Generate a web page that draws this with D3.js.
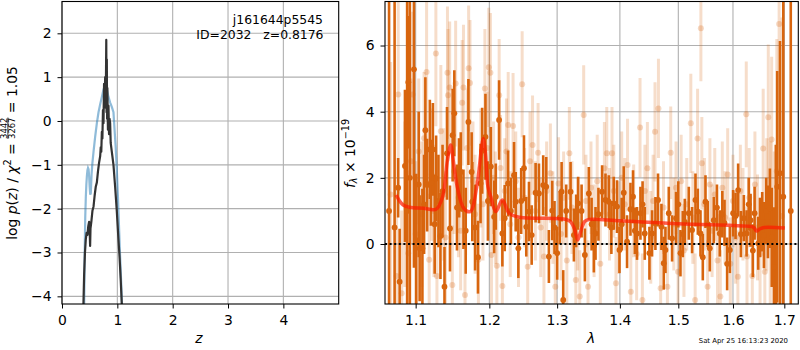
<!DOCTYPE html>
<html><head><meta charset="utf-8">
<script src="https://cdn.jsdelivr.net/npm/d3@7"></script>
<style>
body{margin:0;background:#fff}
svg{display:block;font-family:"DejaVu Sans",sans-serif}
</style></head><body>
<svg id="c" width="800" height="350"></svg>
<script>
// ---------- data ----------
const titleLines = ["j161644p5545", "ID=2032   z=0.8176"];
const stamp = "Sat Apr 25 16:13:23 2020";

const zTicks = [0, 1, 2, 3, 4];
const pTicks = [-4, -3, -2, -1, 0, 1, 2];
const lamTicks = [1.1, 1.2, 1.3, 1.4, 1.5, 1.6, 1.7];
const fTicks = [0, 2, 4, 6];

// log p(z) (dark) and chi2-based curve (blue)
const zDark = [0.385,0.40,0.415,0.43,0.445,0.46,0.475,0.49,0.50,0.508,0.515,0.53,0.55,0.57,0.59,0.61,0.63,0.65,0.67,0.69,0.70,0.71,0.72,0.73,0.74,0.75,0.76,0.77,0.78,0.79,0.80,0.805,0.81,0.815,0.82,0.83,0.84,0.85,0.86,0.87,0.88,0.90,0.93,0.96,0.99,1.02,1.04,1.06,1.085];
const pDark = [-4.3,-3.5,-3.0,-2.7,-2.55,-2.6,-2.4,-2.3,-2.5,-2.85,-2.45,-2.3,-2.05,-1.95,-1.7,-1.5,-1.4,-1.15,-0.95,-0.8,-0.6,-0.7,-0.25,-0.4,0.25,-0.05,0.85,0.45,1.0,0.3,1.85,0.2,1.4,0.05,0.75,-0.2,0.35,-0.3,0.05,-0.05,-0.5,-0.7,-1.0,-1.5,-2.05,-2.7,-3.1,-3.6,-4.3];
const zBlue = [0.400,0.410,0.420,0.430,0.440,0.450,0.460,0.470,0.480,0.490,0.500,0.510,0.520,0.535,0.550,0.570,0.600,0.630,0.660,0.690,0.720,0.750,0.780,0.810,0.840,0.870,0.900,0.930,0.950,0.970,0.990,1.010,1.030,1.050,1.070,1.090];
const pBlue = [-4.3,-3.0,-2.2,-1.75,-1.45,-1.25,-1.12,-1.07,-1.1,-1.25,-1.5,-1.68,-1.65,-1.2,-0.95,-0.7,-0.35,-0.05,0.2,0.38,0.55,0.72,0.8,0.72,0.55,0.42,0.32,0.2,-0.2,-0.6,-1.1,-1.7,-2.4,-3.1,-3.7,-4.4];

// spectrum, strong series
const darkWave = [
1.0660,1.0730,1.0775,1.0794,1.0862,1.0890,1.0905,1.0925,1.0978,1.1008,
1.1040,1.1052,1.1088,1.1110,1.1127,1.1150,1.1186,1.1200,1.1226,1.1250,
1.1269,1.1300,1.1327,1.1355,1.1381,1.1415,1.1455,1.1491,1.1514,1.1550,
1.1580,1.1602,1.1639,1.1670,1.1707,1.1752,1.1761,1.1800,1.1840,1.1876,
1.1899,1.1945,1.1980,1.2021,1.2068,1.2092,1.2139,1.2186,1.2220,1.2268,
1.2310,1.2355,1.2380,1.2418,1.2460,1.2501,1.2535,1.2575,1.2615,1.2674,
1.2724,1.2788,1.2834,1.2874,1.2925,1.2960,1.3001,1.3040,1.3069,1.3094,
1.3140,1.3208,1.3260,1.3295,1.3327,1.3381,1.3433,1.3496,1.3540,1.3576,
1.3603,1.3650,1.3709,1.3764,1.3818,1.3860,1.3899,1.3953,1.3993,1.4030,
1.4064,1.4119,1.4176,1.4219,1.4250,1.4286,1.4344,1.4380,1.4417,1.4497,
1.4542,1.4600,1.4645,1.4704,1.4744,1.4774,1.4832,1.4890,1.4960,1.5000,
1.5038,1.5080,1.5115,1.5187,1.5246,1.5307,1.5350,1.5398,1.5440,1.5489,
1.5530,1.5568,1.5642,1.5700,1.5753,1.5800,1.5841,1.5890,1.5941,1.6003,
1.6049,1.6098,1.6150,1.6207,1.6259,1.6300,1.6336,1.6380,1.6414,1.6484,
1.6520,1.6562,1.6595,1.6640,1.6674,1.6713,1.6750,1.6793,1.6830,1.6858,
1.6913,1.6979,1.7130];
const darkFlux = [
1.0,0.5,1.7,-1.14,2.36,1.0,4.89,2.0,5.28,0.12,
1.8,-0.13,-0.13,1.2,3.44,1.78,2.86,1.85,2.86,0.6,
1.98,1.3,0.24,1.6,-1.29,2.74,0.47,3.29,3.95,1.1,
2.0,2.18,1.05,0.4,3.69,2.18,1.28,0.5,-0.40,1.83,
2.82,3.24,1.3,2.34,0.82,1.43,3.75,0.32,0.78,1.83,
1.0,2.08,1.28,-0.13,1.3,2.29,0.52,0.98,0.27,1.55,
1.53,1.78,1.73,-0.38,1.01,0.5,-0.28,0.8,1.58,-1.69,
1.0,1.58,0.27,0.7,1.23,1.0,-0.33,1.53,0.6,-0.06,
0.32,0.9,1.58,1.33,1.28,0.5,1.23,1.13,-0.18,0.6,
1.55,0.07,1.05,1.43,0.4,0.32,0.93,1.2,0.32,-0.28,
0.32,0.62,1.33,0.52,-0.58,-0.18,0.93,0.17,0.78,1.2,
-0.28,0.3,0.67,0.93,0.42,1.33,0.98,0.32,-0.4,1.28,
0.6,-0.13,0.72,1.1,0.32,0.9,0.64,-0.6,-0.18,0.93,
0.85,1.63,0.3,0.78,0.32,1.2,0.72,-0.2,0.93,0.02,
0.5,0.67,0.27,1.0,0.67,1.08,0.2,-0.69,0.5,1.73,
2.14,1.43,1.0];
const darkErr = [
8,8,0.9,1.6,2.3,8,2.0,8,6,2.0,
2.2,1.6,1.8,1.5,1.6,1.4,1.5,1.3,1.4,1.5,
1.3,1.4,1.3,1.4,1.2,1.4,1.3,1.4,1.3,1.3,
1.2,1.2,1.2,1.3,1.3,1.2,1.2,1.3,1.1,1.2,
1.3,1.3,1.2,1.2,1.1,1.0,1.2,1.0,1.0,1.0,
1.0,1.0,0.9,0.9,1.0,1.0,0.9,0.9,0.9,0.9,
0.9,0.9,0.9,0.8,0.9,0.8,0.8,0.8,0.9,0.9,
0.8,0.9,0.8,0.8,0.8,0.8,0.8,0.8,0.8,0.8,
0.8,0.8,0.8,0.8,0.8,0.8,0.8,0.8,0.7,0.8,
0.8,0.8,0.8,0.8,0.7,0.8,0.8,0.7,0.8,0.8,
0.7,0.8,0.8,0.7,0.8,0.7,0.8,0.7,0.8,0.7,
0.7,0.7,0.7,0.8,0.7,0.8,0.7,0.7,0.7,0.8,
0.7,0.7,0.7,0.7,0.7,0.7,0.7,0.8,0.7,0.7,
0.7,0.8,0.7,0.7,0.7,0.8,0.8,0.8,0.8,0.8,
0.9,0.9,1.0,1.0,1.1,1.2,1.5,1.8,2.5,3.5,
4.0,8,10];

// spectrum, faint series
const lightWave = [
1.0680,1.0755,1.0776,1.0820,1.0860,1.0905,1.0940,1.0961,1.1000,1.1040,
1.1080,1.1110,1.1143,1.1177,1.1210,1.1240,1.1266,1.1280,1.1332,1.1370,
1.1395,1.1421,1.1429,1.1451,1.1487,1.1510,1.1532,1.1570,1.1600,1.1621,
1.1639,1.1660,1.1690,1.1710,1.1729,1.1770,1.1800,1.1846,1.1880,1.1910,
1.1937,1.1970,1.1992,1.2015,1.2030,1.2060,1.2085,1.2107,1.2140,1.2160,
1.2186,1.2220,1.2245,1.2270,1.2300,1.2341,1.2380,1.2420,1.2474,1.2510,
1.2556,1.2590,1.2628,1.2670,1.2711,1.2750,1.2799,1.2840,1.2897,1.2935,
1.2972,1.3022,1.3060,1.3100,1.3150,1.3189,1.3230,1.3290,1.3320,1.3352,
1.3414,1.3450,1.3483,1.3530,1.3580,1.3630,1.3680,1.3746,1.3785,1.3830,
1.3870,1.3900,1.3935,1.3980,1.4030,1.4080,1.4127,1.4182,1.4230,1.4280,
1.4337,1.4377,1.4420,1.4462,1.4520,1.4560,1.4593,1.4652,1.4690,1.4740,
1.4808,1.4866,1.4920,1.4960,1.4996,1.5050,1.5100,1.5150,1.5223,1.5260,
1.5301,1.5345,1.5405,1.5423,1.5470,1.5528,1.5570,1.5610,1.5660,1.5710,
1.5763,1.5800,1.5850,1.5900,1.5950,1.6000,1.6050,1.6093,1.6140,1.6190,
1.6253,1.6267,1.6310,1.6370,1.6420,1.6470,1.6520,1.6581,1.6613,1.6650,
1.6681,1.6720,1.6748,1.6800,1.6850,1.6896,1.6952];
const lightFlux = [
1.5,-0.97,4.52,-1.49,1.2,-0.28,2.5,4.52,0.3,2.8,
0.9,3.2,5.2,-0.48,2.1,1.0,5.76,-0.97,3.41,1.5,
0.2,5.18,4.5,4.73,-1.24,2.2,4.85,1.4,0.4,4.27,
4.73,-1.54,2.9,5.31,4.87,1.9,0.9,-0.48,2.3,1.2,
4.7,2.9,5.34,5.18,-0.33,2.0,1.1,-0.66,4.5,2.3,
-1.27,1.6,2.8,3.6,0.6,3.57,1.9,0.2,4.83,1.4,
-0.69,2.5,2.99,1.0,2.76,0.5,-0.38,1.6,2.14,0.8,
-1.29,1.83,0.3,1.4,-0.5,2.74,1.1,-1.09,0.6,-1.59,
3.9,1.3,-1.29,1.7,0.4,1.9,-0.6,2.29,2.74,0.9,
2.74,1.6,-1.19,0.5,2.0,1.2,2.39,-1.44,1.0,-0.3,
3.52,-1.69,1.6,2.29,0.2,1.3,3.39,4.1,-1.34,1.1,
-1.29,2.76,0.6,1.7,-0.84,1.9,-0.2,1.2,3.65,0.8,
-1.69,3.19,6.52,2.44,1.2,-1.29,1.8,0.4,1.5,-0.5,
-1.59,1.7,0.8,2.1,-0.6,1.3,0.2,-0.99,1.6,0.9,
3.92,-0.38,1.4,-0.97,1.8,0.5,-0.3,2.89,-0.84,1.2,
3.83,0.6,3.16,-0.2,2.2,6.65,0.85];
const lightErr = [
4,2.5,3,2.5,2.5,2.5,2.5,2.5,2.2,2.2,
2.2,2.0,2.2,2.0,2.0,2.0,2.2,2.0,2.0,2.0,
2.0,2.0,2.0,2.0,1.8,1.9,1.9,1.8,1.8,1.9,
1.9,1.8,1.8,1.9,1.9,1.8,1.8,1.7,1.8,1.7,
1.8,1.7,1.8,1.8,1.7,1.7,1.7,1.7,1.7,1.6,
1.6,1.6,1.6,1.6,1.6,1.6,1.5,1.5,1.6,1.5,
1.5,1.5,1.5,1.5,1.5,1.5,1.5,1.5,1.5,1.4,
1.4,1.4,1.4,1.4,1.4,1.4,1.4,1.4,1.4,1.4,
1.5,1.4,1.4,1.4,1.4,1.4,1.4,1.4,1.4,1.4,
1.4,1.4,1.4,1.4,1.4,1.4,1.4,1.4,1.4,1.4,
1.5,1.4,1.4,1.4,1.4,1.4,1.5,1.5,1.4,1.4,
1.4,1.4,1.4,1.4,1.4,1.4,1.4,1.4,1.5,1.4,
1.4,1.5,1.6,1.4,1.4,1.4,1.4,1.4,1.4,1.4,
1.4,1.4,1.4,1.4,1.4,1.4,1.4,1.4,1.4,1.4,
1.6,1.5,1.5,1.5,1.6,1.6,1.7,1.8,1.8,2.0,
2.2,2.5,2.5,3.0,4,5,6];

// best-fit model
const modelWave = [1.0750,1.0836,1.0922,1.1100,1.1269,1.1356,1.1421,1.1465,1.1510,1.1554,1.1643,1.1733,1.1823,1.1891,1.1914,1.1945,1.1980,1.2021,1.2092,1.2186,1.2285,1.2435,1.2977,1.3140,1.3208,1.3270,1.3319,1.3370,1.3430,1.3500,1.4000,1.5000,1.6000,1.6260,1.6400,1.6450,1.6520,1.6600,1.7010];
const modelFlux = [1.48,1.18,1.11,1.08,1.05,1.43,2.54,2.99,2.34,1.73,1.08,0.98,1.73,2.94,3.19,2.74,1.73,1.43,0.98,1.33,0.93,0.81,0.77,0.74,0.67,0.45,0.12,0.40,0.68,0.74,0.70,0.61,0.56,0.54,0.50,0.39,0.46,0.50,0.48];

// ---------- drawing ----------
const svg = d3.select("#c");
const FS = 13.9;
const ORANGE = "#d8650e";
const GRID = "#b0b0b0";

function styleAxis(g) {
  g.select(".domain").remove();
  g.selectAll(".tick line").attr("stroke", "#000").attr("stroke-width", 1);
  g.selectAll(".tick text").attr("font-size", FS).attr("font-family", "DejaVu Sans").attr("fill", "#000");
}

// ===== Left panel =====
const L = {x0: 62, x1: 338.7, y0: 1.5, y1: 304};
const xz = d3.scaleLinear().domain([0, 5]).range([L.x0, L.x1]);
const yp = d3.scaleLinear().domain([-4.175, 2.726]).range([L.y1, L.y0]);

const gl = svg.append("g");
gl.append("clipPath").attr("id", "clipL").append("rect")
  .attr("x", L.x0).attr("y", L.y0).attr("width", L.x1 - L.x0).attr("height", L.y1 - L.y0);

gl.append("g").selectAll("line").data(zTicks).join("line")
  .attr("x1", d => xz(d)).attr("x2", d => xz(d)).attr("y1", L.y0).attr("y2", L.y1)
  .attr("stroke", GRID).attr("stroke-width", 1.1);
gl.append("g").selectAll("line").data(pTicks).join("line")
  .attr("x1", L.x0).attr("x2", L.x1).attr("y1", d => yp(d)).attr("y2", d => yp(d))
  .attr("stroke", GRID).attr("stroke-width", 1.1);

const lineZ = d3.line().x(d => xz(d[0])).y(d => yp(d[1]));
const plot = gl.append("g").attr("clip-path", "url(#clipL)");
plot.append("path").attr("d", lineZ(zBlue.map((z, i) => [z, pBlue[i]])))
  .attr("fill", "none").attr("stroke", "#1f77b4").attr("stroke-opacity", 0.5).attr("stroke-width", 2.2);
plot.append("path").attr("d", lineZ(zDark.map((z, i) => [z, pDark[i]])))
  .attr("fill", "none").attr("stroke", "#333").attr("stroke-width", 2.2).attr("stroke-linejoin", "round");

gl.append("rect").attr("x", L.x0).attr("y", L.y0).attr("width", L.x1 - L.x0).attr("height", L.y1 - L.y0)
  .attr("fill", "none").attr("stroke", "#000").attr("stroke-width", 1.1);

gl.append("g").attr("transform", `translate(0,${L.y1})`)
  .call(d3.axisBottom(xz).tickValues(zTicks).tickSize(4.5).tickPadding(6.5).tickFormat(d3.format("d")))
  .call(styleAxis);
gl.append("g").attr("transform", `translate(${L.x0},0)`)
  .call(d3.axisLeft(yp).tickValues(pTicks).tickSize(4.5).tickPadding(6).tickFormat(d3.format("d")))
  .call(styleAxis);

// title
gl.append("text").attr("x", 323).attr("y", 24).attr("text-anchor", "end")
  .attr("font-size", 12.4).text(titleLines[0]);
gl.append("text").attr("x", 323.5).attr("y", 38.6).attr("text-anchor", "end")
  .attr("font-size", 12.4).style("white-space", "pre").text(titleLines[1]);

// x label
gl.append("text").attr("x", 199).attr("y", 343).attr("text-anchor", "middle")
  .attr("font-size", FS).attr("font-style", "italic").text("z");

// rich text helper
function rich(g, pieces) {
  let cx = 0;
  pieces.forEach(p => {
    if (p.frac) {
      const a = g.append("text").attr("x", cx).attr("y", -p.numY).attr("font-size", p.size).text(p.frac[0]);
      const b = g.append("text").attr("x", cx).attr("y", -p.denY).attr("font-size", p.size).text(p.frac[1]);
      const w = Math.max(a.node().getComputedTextLength(), b.node().getComputedTextLength());
      g.append("line").attr("x1", cx).attr("x2", cx + w).attr("y1", -p.barY).attr("y2", -p.barY)
        .attr("stroke", "#000").attr("stroke-width", 0.8);
      cx += w;
    } else {
      const t = g.append("text").attr("x", cx).attr("y", -(p.up || 0))
        .attr("font-size", p.size || FS).attr("font-style", p.it ? "italic" : "normal")
        .style("white-space", "pre").text(p.t);
      cx += t.node().getComputedTextLength();
    }
  });
  return cx;
}

// left y label
{
  const outer = gl.append("g").attr("transform", "translate(16.5,153) rotate(-90)");
  const inner = outer.append("g");
  const w = rich(inner, [
    {t: "log "}, {t: "p", it: true}, {t: "("}, {t: "z", it: true}, {t: ")"}, {t: " / "},
    {t: "χ", it: true}, {t: "2", size: 9.7, up: 5.5}, {t: " = "},
    {frac: ["3442", "3267"], size: 8.4, numY: 9.9, denY: 1.6, barY: 8.6},
    {t: " = 1.05"}
  ]);
  inner.attr("transform", `translate(${-w / 2},0)`);
}

// ===== Right panel =====
const R = {x0: 385, x1: 798.3, y0: 1.5, y1: 304};
const xl = d3.scaleLog().domain([1.0609, 1.7283]).range([R.x0, R.x1]);
const yf = d3.scaleLinear().domain([-1.814, 7.331]).range([R.y1, R.y0]);

const gr = svg.append("g");
gr.append("clipPath").attr("id", "clipR").append("rect")
  .attr("x", R.x0).attr("y", R.y0).attr("width", R.x1 - R.x0).attr("height", R.y1 - R.y0);

gr.append("g").selectAll("line").data(lamTicks).join("line")
  .attr("x1", d => xl(d)).attr("x2", d => xl(d)).attr("y1", R.y0).attr("y2", R.y1)
  .attr("stroke", GRID).attr("stroke-width", 1.1);
gr.append("g").selectAll("line").data(fTicks).join("line")
  .attr("x1", R.x0).attr("x2", R.x1).attr("y1", d => yf(d)).attr("y2", d => yf(d))
  .attr("stroke", GRID).attr("stroke-width", 1.1);

const pr = gr.append("g").attr("clip-path", "url(#clipR)");
const light = lightWave.map((w, i) => ({w, f: lightFlux[i], e: lightErr[i]}));
const dark = darkWave.map((w, i) => ({w, f: darkFlux[i], e: darkErr[i]}));

// faint series
pr.append("g").selectAll("line").data(light).join("line")
  .attr("x1", d => xl(d.w)).attr("x2", d => xl(d.w))
  .attr("y1", d => yf(d.f - d.e)).attr("y2", d => yf(d.f + d.e))
  .attr("stroke", ORANGE).attr("stroke-opacity", 0.22).attr("stroke-width", 3);
pr.append("g").selectAll("circle").data(light).join("circle")
  .attr("cx", d => xl(d.w)).attr("cy", d => yf(d.f)).attr("r", 3)
  .attr("fill", ORANGE).attr("fill-opacity", 0.25);

// strong series
pr.append("g").selectAll("line").data(dark).join("line")
  .attr("x1", d => xl(d.w)).attr("x2", d => xl(d.w))
  .attr("y1", d => yf(d.f - d.e)).attr("y2", d => yf(d.f + d.e))
  .attr("stroke", ORANGE).attr("stroke-width", 2.6);
pr.append("g").selectAll("circle").data(dark).join("circle")
  .attr("cx", d => xl(d.w)).attr("cy", d => yf(d.f)).attr("r", 2.9)
  .attr("fill", ORANGE);

// zero line
pr.append("line").attr("x1", R.x0).attr("x2", R.x1).attr("y1", yf(0)).attr("y2", yf(0))
  .attr("stroke", "#000").attr("stroke-width", 2).attr("stroke-dasharray", "2,2.6");

// model
pr.append("path")
  .attr("d", d3.line().curve(d3.curveCatmullRom).x(d => xl(d[0])).y(d => yf(d[1]))(modelWave.map((w, i) => [w, modelFlux[i]])))
  .attr("fill", "none").attr("stroke", "#ff1a00").attr("stroke-opacity", 0.7).attr("stroke-width", 3.5)
  .attr("stroke-linejoin", "round");

gr.append("rect").attr("x", R.x0).attr("y", R.y0).attr("width", R.x1 - R.x0).attr("height", R.y1 - R.y0)
  .attr("fill", "none").attr("stroke", "#000").attr("stroke-width", 1.1);

gr.append("g").attr("transform", `translate(0,${R.y1})`)
  .call(d3.axisBottom(xl).tickValues(lamTicks).tickSize(4.5).tickPadding(6.5).tickFormat(d3.format(".1f")))
  .call(styleAxis);
gr.append("g").attr("transform", `translate(${R.x0},0)`)
  .call(d3.axisLeft(yf).tickValues(fTicks).tickSize(4.5).tickPadding(6).tickFormat(d3.format("d")))
  .call(styleAxis);

gr.append("text").attr("x", 591).attr("y", 343).attr("text-anchor", "middle")
  .attr("font-size", FS).attr("font-style", "italic").text("λ");

// right y label
{
  const outer = gr.append("g").attr("transform", "translate(354.5,153.5) rotate(-90)");
  const inner = outer.append("g");
  const w = rich(inner, [
    {t: "f", it: true}, {t: "λ", it: true, size: 9.7, up: -2.8}, {t: " × 10"}, {t: "−19", size: 9.7, up: 5.5}
  ]);
  inner.attr("transform", `translate(${-w / 2},0)`);
}

// timestamp
svg.append("text").attr("x", 788).attr("y", 342.5).attr("text-anchor", "end")
  .attr("font-size", 6.9).text(stamp);
</script>
</body></html>
